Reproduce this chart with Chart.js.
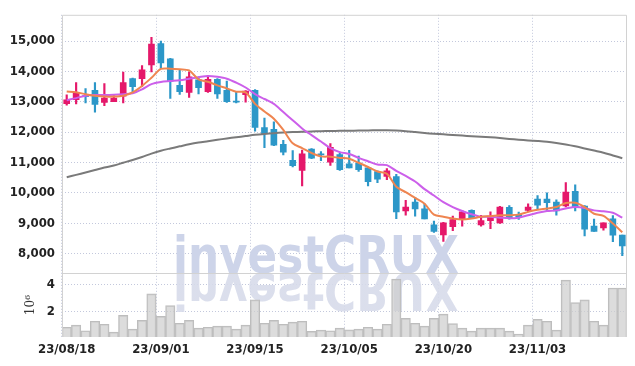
<!DOCTYPE html>
<html>
<head>
<meta charset="utf-8">
<script src="https://cdn.jsdelivr.net/npm/chart.js@4/dist/chart.umd.min.js"></script>
<style>
    html, body { margin: 0; padding: 0; background: #fff; }
    #wrap { width: 635px; height: 366px; }
</style>
</head>
<body>
<div id="wrap"><canvas id="stockChart" width="635" height="366"></canvas></div>
<script>
// Trading days (KRX), 23/08/18 .. 23/11/16
const dates = [
    "23/08/18", "23/08/21", "23/08/22", "23/08/23", "23/08/24", "23/08/25", "23/08/28", "23/08/29", "23/08/30", "23/08/31",
    "23/09/01", "23/09/04", "23/09/05", "23/09/06", "23/09/07", "23/09/08", "23/09/11", "23/09/12", "23/09/13", "23/09/14",
    "23/09/15", "23/09/18", "23/09/19", "23/09/20", "23/09/21", "23/09/22", "23/09/25", "23/09/26", "23/09/27", "23/10/04",
    "23/10/05", "23/10/06", "23/10/10", "23/10/11", "23/10/12", "23/10/13", "23/10/16", "23/10/17", "23/10/18", "23/10/19",
    "23/10/20", "23/10/23", "23/10/24", "23/10/25", "23/10/26", "23/10/27", "23/10/30", "23/10/31", "23/11/01", "23/11/02",
    "23/11/03", "23/11/06", "23/11/07", "23/11/08", "23/11/09", "23/11/10", "23/11/13", "23/11/14", "23/11/15", "23/11/16"
];

const opens = [
    12940, 13070, 13200, 13380, 12980, 13000, 13180, 13760, 13760, 14210,
    14920, 14410, 13540, 13310, 13720, 13330, 13740, 13380, 13020, 13230,
    13380, 12150, 12090, 11600, 11070, 10740, 11440, 11280, 11010, 11260,
    10950, 10980, 10820, 10700, 10540, 10530, 9400, 9690, 9470, 8940,
    8610, 8880, 9120, 9420, 8940, 9080, 9010, 9520, 9290, 9420,
    9790, 9790, 9690, 9570, 10050, 9560, 8900, 8840, 9140, 8610
];
const highs = [
    13230, 13630, 13430, 13630, 13600, 13200, 13980, 13780, 14190, 15120,
    15000, 14430, 14040, 13980, 13820, 13870, 13760, 13680, 13330, 13370,
    13400, 12460, 12340, 11730, 11390, 11410, 11460, 11360, 11620, 11310,
    11400, 11210, 10850, 10720, 10800, 10610, 9750, 9850, 9640, 9070,
    9030, 9230, 9420, 9440, 9260, 9370, 9550, 9580, 9360, 9640,
    9910, 10000, 9770, 10340, 10260, 9580, 9130, 9010, 9250, 8610
];
const lows = [
    12890, 12930, 12960, 12660, 12870, 13000, 12960, 13310, 13500, 13980,
    14100, 13110, 13240, 13140, 13260, 13310, 13110, 12980, 12960, 12990,
    12030, 11490, 11550, 11250, 10850, 10230, 11120, 11060, 10900, 10740,
    10820, 10700, 10230, 10330, 10430, 9150, 9260, 9230, 9140, 8690,
    8400, 8750, 8900, 9150, 8900, 8820, 8990, 9130, 9120, 9370,
    9440, 9400, 9260, 9530, 9400, 8580, 8730, 8770, 8390, 7930
];
const closes = [
    13060, 13280, 13170, 12910, 13120, 13120, 13630, 13500, 14050, 14900,
    14280, 13680, 13330, 13820, 13460, 13740, 13260, 13000, 12990, 13350,
    12150, 11950, 11570, 11340, 10890, 11280, 11140, 11250, 11500, 10760,
    10820, 10760, 10370, 10450, 10720, 9370, 9530, 9470, 9140, 8730,
    9010, 9120, 9370, 9180, 9080, 9230, 9530, 9150, 9210, 9530,
    9590, 9670, 9400, 10020, 9530, 8800, 8730, 9010, 8600, 8250
];

// Moving averages as drawn (5 / 20 / long)
const ma5 = [
    13340, 13310, 13250, 13200, 13170, 13170, 13200, 13310, 13520, 13790,
    14080, 14090, 14070, 14030, 13740, 13660, 13540, 13440, 13330, 13310,
    12930, 12680, 12440, 12070, 11630, 11470, 11310, 11200, 11190, 11150,
    11120, 10990, 10850, 10700, 10630, 10200, 10020, 9830, 9640, 9280,
    9210, 9150, 9120, 9150, 9210, 9230, 9260, 9260, 9280, 9370,
    9440, 9480, 9530, 9660, 9670, 9530, 9310, 9240, 8990, 8700
];
const ma20 = [
    13050, 13120, 13200, 13220, 13220, 13230, 13250, 13280, 13410, 13580,
    13650, 13680, 13710, 13760, 13810, 13850, 13820, 13760, 13630, 13470,
    13250, 13090, 12930, 12660, 12390, 12120, 11900, 11690, 11470, 11340,
    11280, 11150, 11040, 10930, 10910, 10720, 10560, 10370, 10120, 9910,
    9690, 9530, 9400, 9290, 9210, 9210, 9180, 9160, 9180, 9260,
    9340, 9400, 9420, 9480, 9530, 9500, 9420, 9390, 9340, 9180
];
const maLong = [
    10510, 10590, 10670, 10750, 10830, 10900, 10990, 11080, 11180, 11290,
    11385, 11460, 11530, 11600, 11657, 11700, 11745, 11790, 11830, 11870,
    11910, 11940, 11965, 11985, 12000, 12010, 12020, 12030, 12035, 12040,
    12045, 12050, 12055, 12060, 12060, 12050, 12030, 12000, 11970, 11945,
    11925, 11905, 11885, 11865, 11850, 11830, 11805, 11775, 11750, 11725,
    11705, 11680, 11640, 11590, 11530, 11460, 11390, 11320, 11230, 11140
];

// Volume in millions
const volumes = [
    0.87, 1.02, 0.61, 1.31, 1.09, 0.51, 1.74, 0.73, 1.38, 3.33,
    1.67, 2.46, 1.16, 1.38, 0.80, 0.87, 0.95, 0.95, 0.73, 1.02,
    2.89, 1.16, 1.38, 1.09, 1.24, 1.31, 0.56, 0.66, 0.61, 0.80,
    0.68, 0.73, 0.87, 0.73, 1.09, 4.41, 1.52, 1.16, 0.95, 1.52,
    1.83, 1.14, 0.80, 0.58, 0.80, 0.80, 0.80, 0.58, 0.37, 1.02,
    1.45, 1.31, 0.66, 4.34, 2.68, 2.89, 1.31, 1.02, 3.76, 3.76
];

const priceTicks = [8000, 9000, 10000, 11000, 12000, 13000, 14000, 15000];
const volumeTicks = [2, 4];

const UP = "#e5186a";
const DOWN = "#2c97c8";
const GRID = "#c3c8dc";
const TICK_FONT = { family: "'DejaVu Sans', sans-serif", size: 13, weight: "bold condensed" };

const candleColors = opens.map((o, i) => (closes[i] >= o ? UP : DOWN));

// watermark + panel borders
const chartDecor = {
    id: "chartDecor",
    beforeDatasetsDraw(chart) {
        const ctx = chart.ctx;
        const area = chart.chartArea;
        const baseY = chart.scales.yv.top;
        const text = "investCRUX";
        ctx.save();
        ctx.font = "bold 52px 'DejaVu Sans', sans-serif";
        const sx = 286 / ctx.measureText(text).width;
        const cx = 316;
        ctx.textAlign = "center";
        ctx.textBaseline = "alphabetic";
        // main text
        ctx.save();
        ctx.beginPath();
        ctx.rect(area.left, area.top, area.right - area.left, baseY - area.top);
        ctx.clip();
        ctx.translate(cx, baseY);
        ctx.scale(sx, 1);
        ctx.fillStyle = "#cdd4e9";
        ctx.fillText(text, 0, 0);
        ctx.restore();
        // reflection
        ctx.save();
        ctx.beginPath();
        ctx.rect(area.left, baseY, area.right - area.left, area.bottom - baseY);
        ctx.clip();
        const grad = ctx.createLinearGradient(0, baseY, 0, baseY + 48);
        grad.addColorStop(0, "rgba(215,219,234,0.9)");
        grad.addColorStop(1, "rgba(215,219,234,0.35)");
        ctx.translate(cx, baseY);
        ctx.scale(sx, -1);
        ctx.fillStyle = grad;
        ctx.fillText(text, 0, 0);
        ctx.restore();
        ctx.restore();
    },
    afterDraw(chart) {
        const ctx = chart.ctx;
        const area = chart.chartArea;
        const yv = chart.scales.yv;
        ctx.save();
        ctx.strokeStyle = "#d2d2d2";
        ctx.lineWidth = 1;
        ctx.beginPath();
        ctx.moveTo(area.left + 0.5, area.bottom);
        ctx.lineTo(area.left + 0.5, area.top + 0.5);
        ctx.lineTo(area.right - 0.5, area.top + 0.5);
        ctx.lineTo(area.right - 0.5, area.bottom);
        ctx.moveTo(area.left, Math.round(yv.top) + 0.5);
        ctx.lineTo(area.right, Math.round(yv.top) + 0.5);
        ctx.stroke();
        ctx.restore();
    }
};

function maLine(label, data, color) {
    return {
        type: "line",
        label: label,
        data: data,
        yAxisID: "y",
        borderColor: color,
        borderWidth: 2,
        pointRadius: 0,
        tension: 0.3,
        order: 0,
    };
}

document.addEventListener("DOMContentLoaded", function () {
    const ctx = document.getElementById("stockChart").getContext("2d");
    new Chart(ctx, {
        data: {
            labels: dates,
            datasets: [
                maLine("MA5", ma5, "#ef8550"),
                maLine("MA20", ma20, "#cc5fea"),
                maLine("MA long", maLong, "#7a7a7a"),
                {
                    type: "bar",
                    label: "wick",
                    data: lows.map((l, i) => [l, highs[i]]),
                    yAxisID: "y",
                    backgroundColor: candleColors,
                    barThickness: 1.5,
                    grouped: false,
                    order: 2,
                },
                {
                    type: "bar",
                    label: "body",
                    data: opens.map((o, i) => [o, closes[i]]),
                    yAxisID: "y",
                    backgroundColor: candleColors,
                    barThickness: 6,
                    grouped: false,
                    order: 1,
                },
                {
                    type: "bar",
                    label: "volume",
                    data: volumes,
                    yAxisID: "yv",
                    backgroundColor: "rgba(205,205,205,0.7)",
                    borderColor: "#bdbdbd",
                    borderWidth: 1,
                    barPercentage: 1,
                    categoryPercentage: 1,
                    grouped: false,
                    order: 3,
                },
            ],
        },
        options: {
            responsive: false,
            animation: false,
            layout: { padding: { top: 9, right: 8, left: 0, bottom: 0 } },
            plugins: {
                legend: { display: false },
                tooltip: { enabled: false },
            },
            scales: {
                x: {
                    type: "category",
                    offset: true,
                    grid: {
                        drawTicks: false,
                        color: (c) => (c.index % 10 === 0 ? GRID : "transparent"),
                    },
                    border: { display: false, dash: [1, 2] },
                    ticks: {
                        autoSkip: false,
                        maxRotation: 0,
                        padding: 5,
                        color: "#222",
                        font: TICK_FONT,
                        callback: function (value, index) {
                            return index % 10 === 0 ? dates[index] : "";
                        },
                    },
                    afterFit: (scale) => { scale.height = 29; },
                },
                y: {
                    type: "linear",
                    position: "left",
                    stack: "panels",
                    stackWeight: 4.05,
                    weight: 1,
                    min: 7350,
                    max: 15865,
                    grid: { color: GRID, drawTicks: false },
                    border: { display: false, dash: [1, 2] },
                    afterBuildTicks: (scale) => {
                        scale.ticks = priceTicks.map((v) => ({ value: v }));
                    },
                    ticks: {
                        padding: 7,
                        color: "#222",
                        font: TICK_FONT,
                        callback: (v) => v.toLocaleString("en-US"),
                    },
                    afterFit: (scale) => { scale.width = 62; },
                },
                yv: {
                    type: "linear",
                    position: "left",
                    stack: "panels",
                    stackWeight: 1,
                    weight: 0,
                    min: 0.15,
                    max: 4.85,
                    grid: { color: GRID, drawTicks: false },
                    border: { display: false, dash: [1, 2] },
                    afterBuildTicks: (scale) => {
                        scale.ticks = volumeTicks.map((v) => ({ value: v }));
                    },
                    title: {
                        display: true,
                        text: "10\u2076",
                        color: "#333",
                        padding: { top: 24, bottom: 0 },
                        font: { family: "'DejaVu Serif', serif", size: 12 },
                    },
                    ticks: {
                        padding: 7,
                        color: "#222",
                        font: TICK_FONT,
                    },
                    afterFit: (scale) => { scale.width = 62; },
                },
            },
        },
        plugins: [chartDecor],
    });
});
</script>
</body>
</html>
